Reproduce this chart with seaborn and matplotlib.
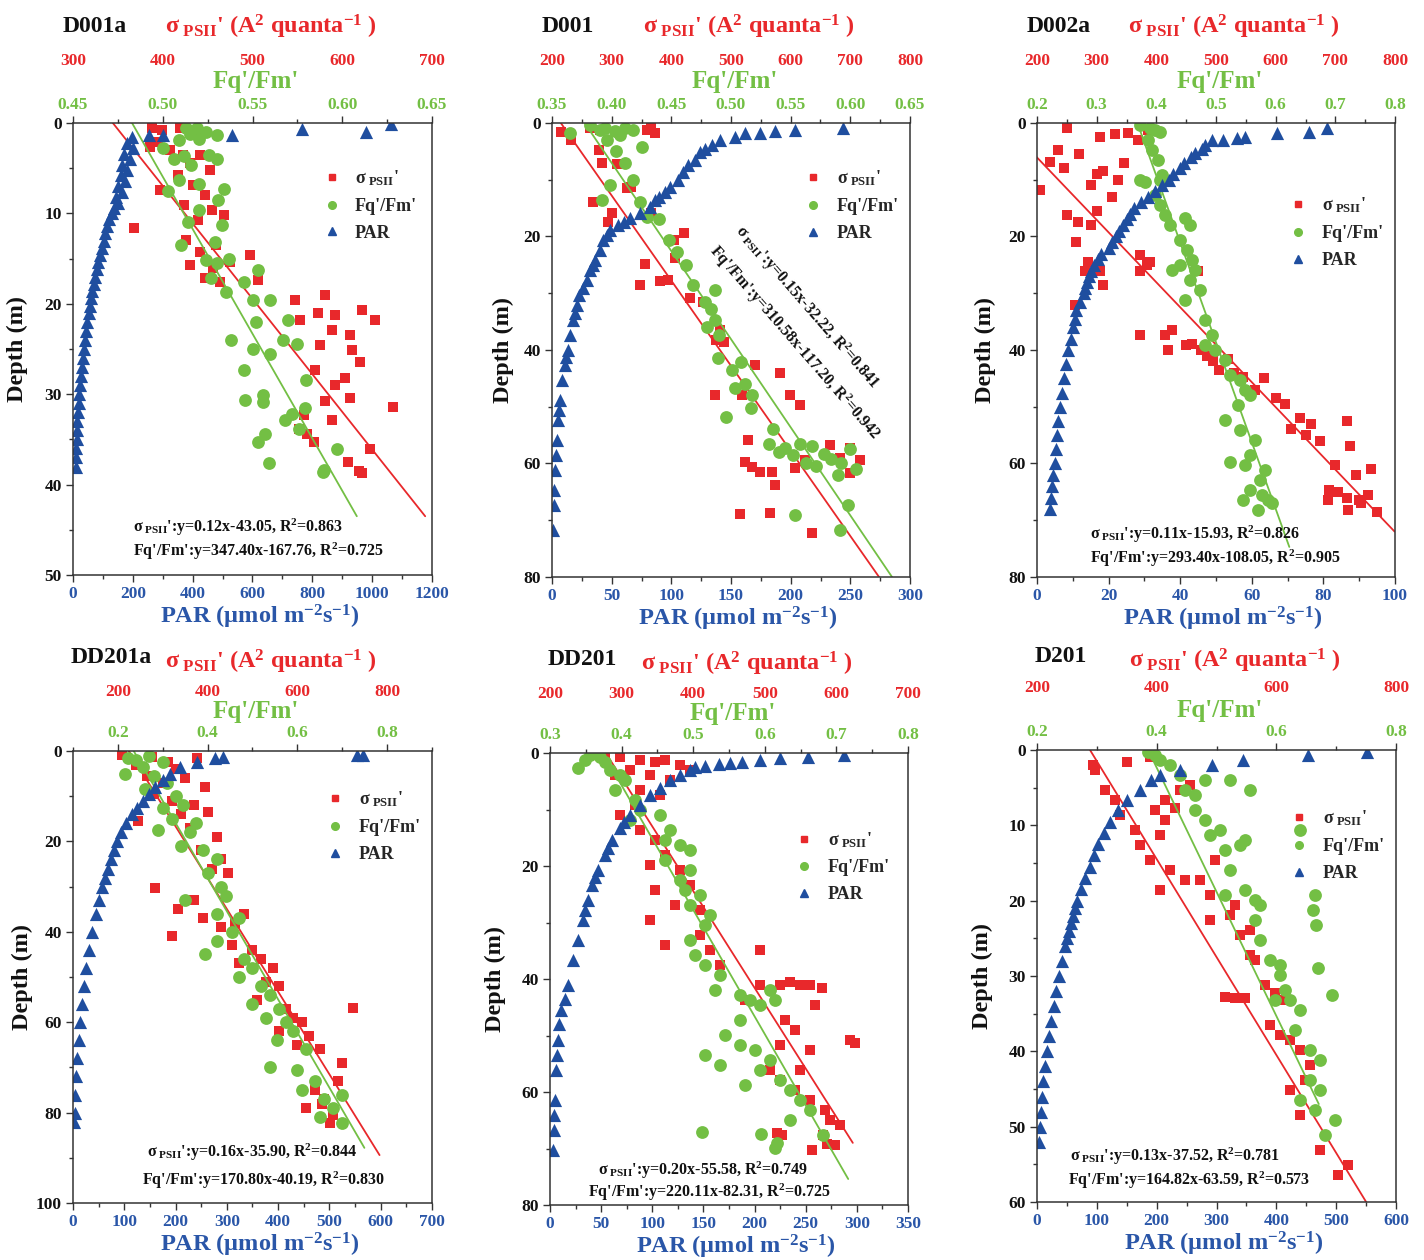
import numpy as np
import matplotlib
matplotlib.use('Agg')
import matplotlib.pyplot as plt
from matplotlib.lines import Line2D
from matplotlib.ticker import MultipleLocator, FormatStrFormatter
import seaborn as sns

RED = '#e8282b'
GREEN = '#73bf44'
BLUE = '#1f4e9f'
BLUE_TXT = '#2a56a8'
DARK = '#333333'

# ---------------- data ----------------
titles = ['D001a', 'D001', 'D002a', 'DD201a', 'DD201', 'D201']

par_lim = [(0, 1200), (0, 300), (0, 100), (0, 700), (0, 350), (0, 600)]
par_major = [200, 50, 20, 100, 50, 100]
par_minor = [100, 25, 10, 50, 25, 50]
sig_lim = [(300, 700), (200, 800), (200, 800), (100, 900), (200, 700), (200, 800)]
sig_major = [100, 100, 100, 200, 100, 200]
fq_lim = [(0.45, 0.65), (0.35, 0.65), (0.2, 0.8), (0.1, 0.9), (0.3, 0.8), (0.2, 0.8)]
fq_major = [0.05, 0.05, 0.1, 0.2, 0.1, 0.2]
fq_minor = [0.025, 0.025, 0.05, 0.1, 0.05, 0.1]
fq_fmt = ['%.2f', '%.2f', '%.1f', '%.1f', '%.1f', '%.1f']
depth_max = [50, 80, 80, 100, 80, 60]
depth_major = [10, 20, 20, 20, 20, 10]
depth_minor = [5, 10, 10, 10, 10, 5]

# regression equations (depth = a*x + b) as printed
sig_eq = ['y=0.12x-43.05', 'y=0.15x-32.22', 'y=0.11x-15.93',
          'y=0.16x-35.90', 'y=0.20x-55.58', 'y=0.13x-37.52']
sig_r2 = ['0.863', '0.841', '0.826', '0.844', '0.749', '0.781']
fq_eq = ['y=347.40x-167.76', 'y=310.58x-117.20', 'y=293.40x-108.05',
         'y=170.80x-40.19', 'y=220.11x-82.31', 'y=164.82x-63.59']
fq_r2 = ['0.725', '0.942', '0.905', '0.830', '0.725', '0.573']
sig_fit = [(0.125, -43.05), (0.15, -32.22), (0.11, -15.93),
           (0.16, -35.90), (0.20, -55.58), (0.13, -37.52)]
fq_fit = [(347.40, -167.76), (310.58, -117.20), (293.40, -108.05),
          (170.80, -40.19), (220.11, -82.31), (164.82, -63.59)]
sig_fit_end = [43.5, 80, 72, 89.4, 69, 60]
fq_fit_end = [43.5, 80, 74.7, 87.8, 75.4, 47]

# (value, depth) pairs
d001a_sigma = [(388, 0.6), (399, 0.8), (419, 0.6), (439, 1.0), (386, 2.7), (395, 2.1), (408, 3.0),
               (423, 3.5), (441, 3.5), (430, 4.4), (453, 5.2), (417, 5.8), (434, 6.9), (397, 7.4),
               (447, 8.0), (424, 9.1), (455, 9.6), (368, 11.6), (439, 10.7), (468, 10.2), (426, 12.9),
               (441, 14.3), (459, 13.5), (430, 15.7), (456, 16.0), (447, 17.1), (475, 15.4), (464, 17.6),
               (506, 17.4), (497, 14.6), (547, 19.6), (581, 19.0), (553, 21.8), (573, 21.0), (592, 21.2),
               (589, 22.9), (609, 23.5), (575, 24.6), (622, 20.7), (636, 21.8), (570, 27.3), (603, 28.2),
               (611, 25.1), (620, 26.4), (592, 29.0), (609, 30.4), (656, 31.4), (581, 30.8), (557, 32.3),
               (589, 32.8), (552, 33.9), (561, 34.4), (568, 35.3), (631, 36.1), (606, 37.5), (619, 38.5),
               (622, 38.7)]
d001a_fq = [(0.513, 0.5), (0.519, 0.6), (0.524, 1.0), (0.530, 1.3), (0.515, 1.2), (0.509, 1.9),
            (0.520, 1.8), (0.500, 2.8), (0.506, 4.0), (0.512, 3.6), (0.516, 4.7), (0.526, 3.5),
            (0.509, 6.3), (0.520, 6.8), (0.530, 4.0), (0.503, 7.5), (0.534, 7.3), (0.520, 9.6),
            (0.531, 8.5), (0.514, 11.0), (0.533, 11.3), (0.529, 13.2), (0.510, 13.5), (0.524, 15.1),
            (0.537, 15.0), (0.527, 17.1), (0.530, 15.5), (0.545, 17.6), (0.553, 16.3), (0.535, 18.7),
            (0.550, 19.6), (0.560, 19.6), (0.552, 22.0), (0.570, 21.8), (0.567, 24.0), (0.550, 25.0),
            (0.538, 24.0), (0.545, 27.3), (0.560, 25.6), (0.575, 24.5), (0.580, 28.4), (0.556, 30.1),
            (0.546, 30.6), (0.556, 30.9), (0.579, 31.5), (0.568, 32.9), (0.572, 32.2), (0.576, 33.8),
            (0.553, 35.3), (0.557, 34.4), (0.559, 37.6), (0.589, 38.6), (0.597, 36.1), (0.590, 38.4)]
d001a_par = [(1063, 0.1), (979, 1.0), (766, 0.7), (531, 1.3), (301, 1.3), (255, 1.3), (196, 1.5),
             (180, 2.2), (200, 2.8), (172, 3.4), (190, 4.0), (165, 4.6), (180, 5.2), (160, 5.8),
             (175, 6.4), (152, 7.0), (165, 7.6), (145, 8.2), (150, 8.8), (138, 9.4), (130, 10.0),
             (122, 10.6), (115, 11.4), (108, 12.2), (102, 13.0), (96, 13.8), (90, 14.6), (84, 15.4),
             (79, 16.2), (74, 17.0), (69, 17.8), (64, 18.6), (60, 19.4), (56, 20.2), (52, 21.0),
             (48, 22.0), (44, 23.0), (40, 24.0), (36, 25.0), (33, 26.0), (30, 27.0), (27, 28.0),
             (24, 29.0), (21, 30.0), (19, 31.0), (17, 32.0), (15, 33.0), (13, 34.0), (12, 35.0),
             (11, 36.0), (10, 37.0), (9, 38.0)]

d001_sigma = [(215, 1.5), (232, 3.0), (264, 0.9), (280, 1.2), (314, 1.8), (359, 1.2), (366, 0.9),
              (373, 1.8), (279, 4.8), (284, 7.0), (309, 7.2), (326, 11.5), (332, 11.3), (269, 13.9),
              (301, 15.9), (294, 17.4), (366, 15.9), (421, 19.4), (404, 20.6), (406, 23.8), (356, 24.8),
              (394, 27.7), (347, 28.5), (381, 27.8), (431, 30.8), (453, 31.5), (482, 36.5), (475, 38.2),
              (488, 38.6), (540, 42.6), (473, 47.9), (518, 47.9), (582, 44.1), (599, 47.9), (616, 49.7),
              (528, 55.9), (523, 59.7), (535, 60.6), (549, 61.5), (569, 61.5), (607, 60.8), (624, 59.4),
              (666, 56.7), (683, 59.0), (699, 57.3), (716, 59.4), (699, 61.7), (574, 63.8), (565, 68.7),
              (636, 72.2), (515, 68.9)]
d001_fq = [(0.365, 1.8), (0.382, 0.4), (0.390, 1.2), (0.394, 0.9), (0.403, 1.4), (0.407, 2.1),
           (0.411, 0.9), (0.418, 1.2), (0.396, 3.0), (0.404, 5.0), (0.425, 4.2), (0.411, 7.0),
           (0.418, 10.0), (0.399, 11.0), (0.392, 13.5), (0.424, 13.9), (0.440, 17.0), (0.430, 16.5),
           (0.448, 20.6), (0.455, 22.8), (0.462, 25.0), (0.468, 28.5), (0.487, 29.5), (0.478, 31.5),
           (0.483, 32.8), (0.487, 34.7), (0.480, 36.0), (0.490, 37.4), (0.489, 41.4), (0.508, 42.1),
           (0.501, 43.5), (0.503, 46.7), (0.512, 46.0), (0.518, 47.9), (0.496, 51.8), (0.517, 50.3),
           (0.535, 54.0), (0.532, 56.5), (0.545, 57.2), (0.558, 56.5), (0.568, 57.0), (0.552, 58.5),
           (0.563, 60.0), (0.578, 58.3), (0.584, 59.2), (0.592, 60.0), (0.605, 61.0), (0.590, 62.0),
           (0.571, 60.5), (0.554, 69.0), (0.591, 71.7), (0.598, 67.3), (0.540, 58.0), (0.600, 57.5)]
d001_par = [(244, 0.9), (204, 1.2), (187, 1.4), (174, 1.8), (162, 1.8), (153, 2.5), (141, 3.0),
            (134, 3.9), (128, 4.5), (124, 5.1), (120, 6.5), (114, 7.4), (110, 8.6), (106, 10.0),
            (99, 11.3), (95, 12.2), (90, 13.0), (86, 13.6), (82, 14.8), (74, 15.9), (65, 16.7),
            (60, 17.4), (55, 18.0), (49, 18.9), (46, 19.8), (43, 20.6), (40, 22.4), (36, 24.1),
            (34, 25.0), (32, 25.9), (29, 27.7), (26, 29.0), (23, 30.3), (21, 32.1), (19, 33.5),
            (18, 34.7), (15, 37.4), (13, 40.0), (12, 41.3), (11, 42.6), (8, 45.3), (7, 48.8),
            (6, 50.5), (5, 52.3), (4, 55.9), (3.5, 58.5), (2.5, 61.1), (2, 64.7), (1.5, 67.3),
            (1, 71.7)]

d002a_sigma = [(250, 0.9), (306, 2.4), (353, 1.7), (386, 1.2), (370, 3.0), (330, 2.0), (205, 11.8),
               (222, 6.9), (235, 4.8), (245, 8.0), (270, 5.5), (300, 9.0), (290, 10.9), (310, 8.5),
               (335, 10.0), (345, 7.0), (325, 13.0), (250, 16.2), (269, 17.4), (290, 18.0), (300, 15.5),
               (265, 21.0), (285, 24.5), (280, 26.0), (305, 26.0), (310, 28.5), (264, 32.1), (373, 23.3),
               (385, 25.0), (372, 26.0), (390, 24.5), (470, 26.0), (426, 36.5), (415, 37.4), (373, 37.4),
               (450, 39.1), (420, 40.0), (475, 40.0), (460, 39.0), (485, 41.0), (495, 42.0), (505, 43.5),
               (520, 41.5), (530, 44.0), (545, 44.8), (580, 45.0), (565, 47.0), (600, 48.5), (615, 49.5),
               (640, 52.0), (660, 53.0), (625, 54.0), (650, 55.0), (675, 56.0), (720, 52.5), (725, 57.0),
               (700, 60.3), (735, 62.0), (760, 61.0), (770, 68.5), (690, 64.7), (705, 65.0), (720, 66.0),
               (740, 66.5), (688, 66.4), (721, 68.2), (743, 67.0), (755, 65.5)]
d002a_fq = [(0.373, 0.35), (0.389, 0.9), (0.398, 1.2), (0.406, 1.6), (0.386, 3.0), (0.393, 4.8),
            (0.403, 6.5), (0.373, 10.0), (0.381, 10.4), (0.406, 10.0), (0.410, 9.2), (0.398, 12.7),
            (0.406, 14.5), (0.415, 16.2), (0.423, 18.0), (0.448, 16.7), (0.456, 18.0), (0.440, 20.6),
            (0.451, 22.4), (0.460, 24.1), (0.440, 25.0), (0.465, 25.9), (0.456, 27.7), (0.473, 29.4),
            (0.426, 25.9), (0.448, 31.2), (0.482, 34.7), (0.493, 37.4), (0.482, 39.1), (0.498, 40.0),
            (0.515, 41.8), (0.523, 44.4), (0.540, 45.3), (0.549, 47.0), (0.557, 47.9), (0.537, 49.7),
            (0.515, 52.3), (0.540, 54.1), (0.565, 55.9), (0.557, 58.5), (0.582, 61.1), (0.549, 60.3),
            (0.574, 62.9), (0.557, 64.7), (0.577, 65.6), (0.587, 66.4), (0.570, 68.2), (0.523, 59.7),
            (0.594, 67.0), (0.545, 66.4)]
d002a_par = [(81, 0.9), (76, 1.6), (67, 1.8), (58, 2.4), (56, 2.6), (52, 3.0), (49, 3.0), (47, 3.8),
             (46, 4.5), (44, 5.3), (43, 6.0), (41, 7.0), (40, 8.0), (38, 9.0), (37, 10.0), (35, 11.0),
             (33, 12.0), (31, 13.0), (29, 14.0), (27, 15.0), (26, 16.0), (25, 17.0), (24, 18.0),
             (23, 19.0), (22, 20.0), (21, 21.0), (20, 22.0), (18, 23.0), (17, 24.0), (16, 25.0),
             (15, 26.0), (14.5, 27.0), (14, 28.0), (13.5, 29.0), (13, 30.0), (12, 31.5), (11, 33.0),
             (10.5, 34.5), (10, 36.0), (9.5, 38.0), (8.7, 40.0), (8, 42.5), (7.5, 45.0), (7, 47.5),
             (6.4, 50.0), (6, 52.5), (5.6, 55.0), (5.3, 57.5), (5, 60.0), (4.6, 62.0), (4.3, 64.0),
             (4, 66.0), (3.6, 68.0)]

dd201a_sigma = [(209, 0.9), (276, 1.3), (376, 1.5), (312, 2.4), (240, 3.0), (330, 4.0), (265, 5.5),
                (300, 7.0), (350, 6.0), (395, 8.0), (280, 9.5), (320, 11.0), (370, 12.0), (245, 15.5),
                (340, 14.0), (400, 13.5), (360, 17.0), (420, 19.0), (385, 22.0), (430, 24.0), (410, 26.0),
                (445, 27.0), (283, 30.3), (370, 33.0), (335, 35.0), (390, 37.0), (430, 39.0), (460, 38.0),
                (480, 36.0), (320, 41.0), (455, 43.0), (500, 44.0), (520, 46.0), (470, 47.0), (545, 48.0),
                (530, 51.0), (560, 52.0), (510, 55.0), (575, 57.0), (724, 56.9), (590, 59.0), (610, 60.0),
                (560, 62.0), (625, 63.0), (600, 65.0), (650, 66.0), (700, 69.0), (690, 73.0), (640, 75.0),
                (660, 77.0), (620, 79.0), (673, 82.3), (655, 78.0), (680, 80.5)]
dd201a_fq = [(0.223, 1.5), (0.256, 3.5), (0.300, 2.4), (0.240, 2.0), (0.270, 1.0), (0.215, 5.0),
             (0.280, 5.5), (0.310, 7.0), (0.260, 8.5), (0.330, 10.0), (0.300, 12.5), (0.345, 12.0),
             (0.320, 15.0), (0.290, 17.5), (0.360, 18.0), (0.375, 16.0), (0.340, 21.0), (0.390, 22.0),
             (0.420, 24.0), (0.400, 27.0), (0.430, 30.0), (0.440, 32.0), (0.350, 33.0), (0.420, 36.0),
             (0.470, 37.0), (0.455, 40.0), (0.420, 42.0), (0.395, 45.0), (0.480, 46.0), (0.500, 48.0),
             (0.470, 50.0), (0.520, 52.0), (0.540, 54.0), (0.500, 56.0), (0.560, 57.0), (0.530, 59.0),
             (0.575, 60.0), (0.590, 62.0), (0.555, 64.0), (0.620, 66.0), (0.540, 70.0), (0.600, 70.5),
             (0.640, 73.0), (0.610, 75.0), (0.660, 77.0), (0.680, 79.0), (0.650, 81.0), (0.699, 82.3),
             (0.700, 76.0)]
dd201a_par = [(553, 0.9), (566, 0.9), (293, 1.3), (277, 1.5), (242, 2.4), (209, 3.5), (190, 5.0),
              (175, 6.5), (160, 8.0), (148, 9.5), (137, 11.0), (125, 12.5), (115, 14.0), (104, 16.0),
              (94, 18.0), (86, 20.0), (80, 22.0), (74, 24.0), (68, 26.0), (62, 28.0), (57, 30.0),
              (51, 33.0), (45, 36.0), (38, 40.0), (32, 44.0), (26, 48.0), (22, 52.0), (17, 56.0),
              (14, 60.0), (11, 64.0), (8, 68.0), (6, 72.0), (4, 76.0), (3, 80.0), (2, 82.0)]

dd201_sigma = [(277, 0.7), (298, 0.7), (326, 1.2), (347, 1.6), (361, 1.2), (382, 2.1), (396, 3.0),
               (368, 4.8), (340, 3.9), (312, 3.0), (291, 3.9), (326, 6.5), (354, 7.4), (319, 9.2),
               (298, 11.0), (326, 13.6), (347, 15.4), (361, 18.1), (340, 19.8), (382, 20.7), (347, 24.2),
               (396, 23.4), (375, 26.9), (410, 27.8), (340, 29.6), (361, 34.0), (410, 32.2), (424, 34.9),
               (437, 37.5), (493, 34.9), (472, 43.7), (493, 41.1), (521, 41.1), (535, 40.5), (549, 41.1),
               (563, 41.1), (580, 41.6), (570, 44.6), (528, 47.3), (542, 49.0), (563, 52.6), (521, 51.7),
               (507, 56.1), (549, 56.1), (521, 57.9), (542, 59.6), (563, 61.4), (584, 63.2), (591, 65.0),
               (605, 65.8), (598, 69.4), (517, 67.3), (524, 67.6), (566, 70.3), (581, 67.6), (587, 69.2),
               (626, 51.3), (619, 50.8)]
dd201_fq = [(0.339, 2.7), (0.349, 1.2), (0.356, 0.4), (0.370, 0.7), (0.377, 1.6), (0.384, 3.0),
            (0.398, 3.9), (0.405, 4.8), (0.391, 6.5), (0.419, 8.3), (0.426, 10.1), (0.412, 11.9),
            (0.454, 11.0), (0.468, 13.6), (0.461, 15.4), (0.482, 16.3), (0.496, 17.2), (0.461, 18.9),
            (0.496, 20.7), (0.482, 22.5), (0.489, 24.2), (0.509, 25.1), (0.496, 26.9), (0.523, 28.7),
            (0.516, 30.4), (0.496, 33.1), (0.503, 35.8), (0.516, 37.5), (0.537, 39.3), (0.530, 41.9),
            (0.565, 42.8), (0.579, 43.7), (0.607, 41.9), (0.614, 43.7), (0.593, 44.6), (0.565, 47.3),
            (0.544, 49.9), (0.565, 51.7), (0.586, 52.6), (0.607, 54.3), (0.593, 56.1), (0.621, 57.9),
            (0.635, 59.6), (0.649, 61.4), (0.663, 63.2), (0.635, 65.0), (0.512, 67.1), (0.595, 67.4),
            (0.617, 69.0), (0.614, 69.9), (0.681, 67.6), (0.516, 53.5), (0.537, 55.2), (0.572, 58.8)]
dd201_par = [(287, 0.4), (252, 0.7), (225, 0.9), (205, 1.2), (188, 1.6), (176, 1.8), (165, 2.0),
             (152, 2.3), (142, 2.5), (137, 3.0), (127, 3.9), (117, 4.8), (108, 6.2), (98, 7.4),
             (88, 9.2), (78, 11.0), (72, 12.2), (68, 13.3), (61, 15.4), (57, 16.8), (54, 18.1),
             (47, 20.7), (44, 22.0), (41, 23.4), (37, 26.0), (34, 27.8), (32, 29.6), (27, 33.1),
             (22, 36.6), (18, 41.1), (15, 43.5), (11, 45.5), (9, 48.0), (8, 50.8), (7, 53.5),
             (6, 56.1), (4.5, 61.4), (4, 64.0), (3.5, 66.7), (3, 70.3)]

d201_sigma = [(294, 2.0), (350, 1.6), (389, 0.9), (297, 2.7), (314, 5.3), (330, 6.6), (339, 8.6),
              (364, 10.6), (372, 12.6), (389, 14.6), (406, 11.3), (414, 9.3), (397, 8.0), (414, 6.6),
              (431, 7.7), (439, 5.3), (456, 4.6), (422, 15.9), (447, 17.3), (406, 18.6), (472, 17.3),
              (497, 14.6), (489, 19.2), (531, 20.6), (523, 21.9), (489, 22.6), (539, 24.6), (556, 23.9),
              (556, 27.2), (564, 27.9), (581, 31.2), (598, 32.3), (614, 33.2), (514, 32.8), (531, 32.9),
              (548, 32.9), (589, 36.5), (606, 37.8), (623, 38.5), (640, 39.8), (656, 41.8), (648, 43.8),
              (623, 45.1), (640, 48.5), (673, 53.1), (703, 56.4), (720, 55.1)]
d201_fq = [(0.386, 0.3), (0.397, 0.7), (0.406, 1.3), (0.422, 2.0), (0.439, 3.3), (0.447, 5.3),
           (0.464, 6.0), (0.481, 4.0), (0.464, 8.0), (0.481, 9.3), (0.489, 11.3), (0.506, 10.6),
           (0.514, 13.3), (0.539, 12.6), (0.548, 11.9), (0.523, 15.9), (0.514, 19.2), (0.548, 18.6),
           (0.564, 19.9), (0.573, 20.6), (0.564, 22.6), (0.573, 25.2), (0.589, 27.9), (0.606, 28.5),
           (0.606, 29.9), (0.614, 31.9), (0.598, 33.2), (0.623, 33.2), (0.640, 34.5), (0.631, 37.2),
           (0.656, 39.8), (0.673, 41.2), (0.656, 43.8), (0.673, 45.1), (0.640, 46.5), (0.665, 47.8),
           (0.698, 49.1), (0.681, 51.1), (0.640, 10.6), (0.665, 19.2), (0.661, 21.2), (0.666, 23.2),
           (0.670, 28.9), (0.693, 32.5), (0.523, 4.0), (0.556, 5.3)]
d201_par = [(551, 0.3), (453, 0.7), (344, 1.3), (292, 2.0), (239, 2.7), (205, 3.3), (190, 4.0),
            (172, 5.3), (150, 6.6), (135, 8.0), (122, 9.5), (112, 11.0), (102, 12.5), (95, 14.0),
            (88, 15.5), (80, 17.0), (73, 18.5), (67, 20.0), (63, 21.0), (60, 22.0), (56, 23.0),
            (53, 24.0), (50, 25.0), (47, 26.0), (42, 28.0), (37, 30.0), (32, 32.0), (28, 34.0),
            (24, 36.0), (20, 38.0), (16, 40.0), (13, 42.0), (10, 44.0), (8, 46.0), (6, 48.0),
            (5, 50.0), (4, 52.0)]

sigma_data = [d001a_sigma, d001_sigma, d002a_sigma, dd201a_sigma, dd201_sigma, d201_sigma]
fq_data = [d001a_fq, d001_fq, d002a_fq, dd201a_fq, dd201_fq, d201_fq]
par_data = [d001a_par, d001_par, d002a_par, dd201a_par, dd201_par, d201_par]

# ---------------- layout (pixels of the 1424x1260 canvas) ----------------
boxes = [(73, 123, 432, 575), (552, 123, 910, 577), (1037, 123, 1395, 577),
         (73, 751, 432, 1203), (550, 753, 908, 1205), (1037, 750, 1396, 1202)]
red_offset = [37, 37, 37, 35, 35, 37]
legend_anchor = [(0.70, 0.90), (0.71, 0.90), (0.71, 0.84), (0.71, 0.915), (0.69, 0.83), (0.71, 0.87)]
ylabel_x = [-0.125, -0.106, -0.115, -0.111, -0.123, -0.123]
eq_xy = [(0.167, 0.167, 0.106, 0.053), None, (0.148, 0.148, 0.093, 0.042),
         (0.206, 0.192, 0.111, 0.051), (0.134, 0.106, 0.077, 0.027), (0.092, 0.086, 0.10, 0.049)]

sns.set_theme(style='ticks')
plt.rcParams['font.family'] = ['Liberation Serif', 'DejaVu Serif']
plt.rcParams['font.weight'] = 'bold'
plt.rcParams['axes.labelweight'] = 'bold'
plt.rcParams['mathtext.fontset'] = 'custom'
plt.rcParams['mathtext.rm'] = 'Liberation Serif:bold'
plt.rcParams['mathtext.it'] = 'Liberation Serif:italic:bold'
plt.rcParams['mathtext.bf'] = 'Liberation Serif:bold'
plt.rcParams['mathtext.default'] = 'rm'
plt.rcParams['axes.linewidth'] = 1.1
plt.rcParams['axes.edgecolor'] = DARK

SIG = "σ$_{\\rm\\ PSII}$'"
W, H = 1424, 1260

fig = plt.figure(figsize=(W / 100, H / 100), dpi=100)

for i in range(6):
    x0, y0, x1, y1 = boxes[i]
    ax = fig.add_axes([x0 / W, 1 - y1 / H, (x1 - x0) / W, (y1 - y0) / H])
    axg = ax.twiny()
    axr = ax.twiny()
    axr.set_zorder(1)
    axg.set_zorder(2)
    ax.set_zorder(3)
    ax.patch.set_visible(False)

    # sigma PSII (red squares) on the outer top axis
    sx = [p[0] for p in sigma_data[i]]
    sd = [p[1] for p in sigma_data[i]]
    sns.scatterplot(x=sx, y=sd, ax=axr, marker='s', color=RED, s=62, linewidth=0, legend=False)
    a, b = sig_fit[i]
    dd = np.array([0.0, sig_fit_end[i]])
    axr.plot((dd - b) / a, dd, color=RED, lw=1.3)

    # Fq'/Fm' (green circles) on the inner top axis
    gx = [p[0] for p in fq_data[i]]
    gd = [p[1] for p in fq_data[i]]
    sns.scatterplot(x=gx, y=gd, ax=axg, marker='o', color=GREEN, s=85, linewidth=0, legend=False)
    a, b = fq_fit[i]
    dd = np.array([0.0, fq_fit_end[i]])
    axg.plot((dd - b) / a, dd, color=GREEN, lw=1.3)

    # PAR (blue triangles) on the bottom axis
    px = [p[0] for p in par_data[i]]
    pd_ = [p[1] for p in par_data[i]]
    sns.scatterplot(x=px, y=pd_, ax=ax, marker='^', color=BLUE, s=90, linewidth=0, legend=False)

    # limits / ticks
    ax.set_xlim(*par_lim[i])
    ax.set_ylim(depth_max[i], 0)
    axg.set_xlim(*fq_lim[i])
    axr.set_xlim(*sig_lim[i])

    ax.xaxis.set_major_locator(MultipleLocator(par_major[i]))
    ax.xaxis.set_minor_locator(MultipleLocator(par_minor[i]))
    ax.yaxis.set_major_locator(MultipleLocator(depth_major[i]))
    ax.yaxis.set_minor_locator(MultipleLocator(depth_minor[i]))
    axg.xaxis.set_major_locator(MultipleLocator(fq_major[i]))
    axg.xaxis.set_minor_locator(MultipleLocator(fq_minor[i]))
    axg.xaxis.set_major_formatter(FormatStrFormatter(fq_fmt[i]))
    axr.xaxis.set_major_locator(MultipleLocator(sig_major[i]))

    ax.tick_params(axis='x', which='both', direction='out', color=DARK, labelcolor=BLUE_TXT,
                   labelsize=12.5, pad=3)
    ax.tick_params(axis='y', which='both', direction='out', color=DARK, labelcolor='#111111',
                   labelsize=12.5, pad=3, right=False)
    ax.tick_params(which='major', length=5, width=1)
    ax.tick_params(which='minor', length=3, width=1)
    axg.tick_params(axis='x', which='both', direction='out', color=DARK, labelcolor=GREEN,
                    labelsize=12.5, pad=2.5)
    axg.tick_params(which='major', length=5, width=1)
    axg.tick_params(which='minor', length=3, width=1)
    axr.tick_params(axis='x', which='both', length=0, labelcolor=RED, labelsize=12.5, pad=2)

    for s in axg.spines.values():
        s.set_visible(False)
    for s in axr.spines.values():
        s.set_visible(False)
    axr.spines['top'].set_position(('outward', red_offset[i]))
    ax.spines['right'].set_color(DARK)

    # labels
    ax.set_xlabel('PAR (µmol m$^{-2}$s$^{-1}$)', color=BLUE_TXT, fontsize=17.5)
    ax.xaxis.set_label_coords(0.52, -0.062)
    ax.set_ylabel('Depth (m)', color='#111111', fontsize=17.5)
    ax.yaxis.set_label_coords(ylabel_x[i], 0.5)
    axg.set_xlabel("Fq'/Fm'", color=GREEN, fontsize=18)
    axg.xaxis.set_label_coords(0.51, 1.078 if i < 3 else 1.072)
    axr.set_xlabel(SIG + ' (A$^{2}$ quanta$^{-1}$ )', color=RED, fontsize=17.5)
    axr.xaxis.set_label_coords(0.55, 1.197 if i < 3 else 1.182)
    ax.text(-0.028 if i < 3 else -0.008, 1.213 if i < 3 else 1.206, titles[i], transform=ax.transAxes,
            ha='left', va='center', fontsize=17, color='#111111')

    # legend
    handles = [Line2D([], [], marker='s', color=RED, ls='none', markersize=5),
               Line2D([], [], marker='o', color=GREEN, ls='none', markersize=5.5),
               Line2D([], [], marker='^', color=BLUE, ls='none', markersize=6)]
    ax.legend(handles, [SIG, "Fq'/Fm'", 'PAR'], loc='upper left', bbox_to_anchor=legend_anchor[i],
              frameon=False, fontsize=13, handlelength=0.8, handletextpad=0.9,
              labelspacing=0.55, borderaxespad=0, borderpad=0)

    # regression equations
    t1 = SIG + ':' + sig_eq[i] + ', R$^2$=' + sig_r2[i]
    t2 = "Fq'/Fm':" + fq_eq[i] + ', R$^2$=' + fq_r2[i]
    if eq_xy[i] is None:
        ax.text(0.712, 0.593, t1, transform=ax.transAxes, rotation=-49, rotation_mode='anchor',
                ha='center', va='center', fontsize=11.5, color='#111111')
        ax.text(0.676, 0.517, t2, transform=ax.transAxes, rotation=-49, rotation_mode='anchor',
                ha='center', va='center', fontsize=11.5, color='#111111')
    else:
        xa, xb, ya, yb = eq_xy[i]
        ax.text(xa, ya, t1, transform=ax.transAxes, ha='left', va='center', fontsize=11.5,
                color='#111111')
        ax.text(xb, yb, t2, transform=ax.transAxes, ha='left', va='center', fontsize=11.5,
                color='#111111')

fig.savefig('out.png', dpi=100)
